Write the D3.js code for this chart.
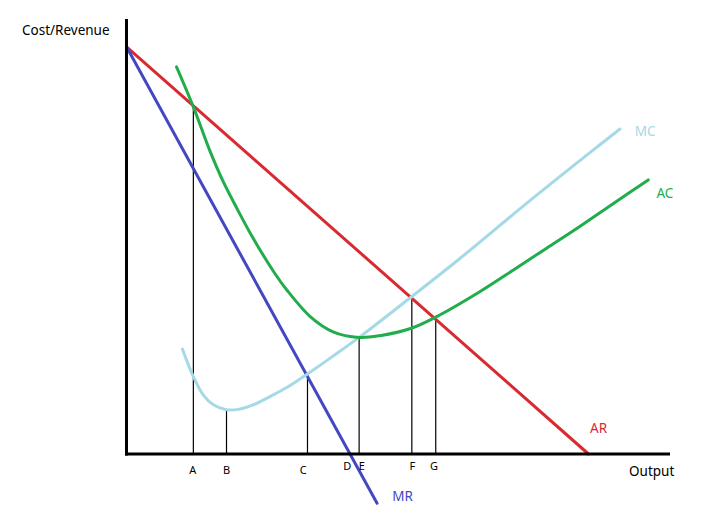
<!DOCTYPE html>
<html>
<head>
<meta charset="utf-8">
<script src="https://cdn.jsdelivr.net/npm/d3@7/dist/d3.min.js"></script>
<style>
html,body{margin:0;padding:0;background:#fff;}
svg{display:block;}
text{font-family:"Noto Sans","Open Sans",sans-serif;}
</style>
</head>
<body>
<svg id="chart" width="721" height="516"></svg>
<script>
// ---- data (output q, cost/revenue p) ----
const arCurve = [[0, 93.6], [85, 0]];
const mrCurve = [[0, 93.6], [46.1, -11.3]];
const mcCurve = [[10.3, 24.1], [12.3, 17.8], [14.1, 13.6], [16.0, 11.3], [18.3, 10.2], [20.3, 10.2], [23.3, 11.3],
                 [26.4, 13.2], [29.8, 15.5], [33.3, 18.4], [38.0, 22.5], [42.8, 26.8], [52.5, 36.2], [61.4, 45.0], [73.5, 57.5], [85.9, 69.9], [90.8, 74.7]];
const acCurve = [[9.2, 89.0], [12.3, 79.8], [15.4, 69.5], [17.8, 62.6], [20.3, 56.5], [23.3, 49.6], [27.3, 41.5], [29.5, 37.7],
                 [33.8, 31.6], [38.0, 28.1], [42.8, 26.8], [46.6, 27.2], [52.4, 28.9], [56.8, 31.4], [65.0, 37.3], [71.2, 42.3],
                 [77.3, 47.3], [83.4, 52.3], [89.6, 57.6], [96.0, 63.0]];
const dropX = [12.3, 18.4, 33.3, 42.8, 52.5, 56.9];
const dropTop = [80.0, 10.2, 18.4, 26.8, 36.2, 31.4];
const tickLabels = ["A", "B", "C", "D", "E", "F", "G"];
const tickLabelX = [12.2, 18.4, 32.5, 40.6, 43.3, 52.6, 56.6];
const tickLabelLevel = [1, 1, 1, 0, 0, 0, 0];
const curveNames = ["AR", "MR", "MC", "AC"];
const curveColors = ["#da2a31", "#4348c2", "#a5d9e6", "#22ad4c"];
const curveLabelPos = [[85.3, 4.8], [48.9, -10.8], [93.5, 73.1], [97.5, 58.9]];
const yTitle = "Cost/Revenue";
const xTitle = "Output";

// ---- layout ----
const svg = d3.select("#chart");
const x = d3.scaleLinear().domain([0, 100]).range([126.5, 670]);
const y = d3.scaleLinear().domain([0, 100]).range([454, 19]);

// drop lines
svg.append("g").selectAll("line").data(dropX).join("line")
  .attr("x1", d => x(d)).attr("x2", d => x(d))
  .attr("y1", y(0)).attr("y2", (d, i) => y(dropTop[i]))
  .attr("stroke", "#000").attr("stroke-width", 1.2);

// curves
const line = d3.line().x(d => x(d[0])).y(d => y(d[1]));
const smooth = d3.line().x(d => x(d[0])).y(d => y(d[1])).curve(d3.curveCatmullRom.alpha(0.5));
const curves = [arCurve, mrCurve, mcCurve, acCurve];
svg.append("g").selectAll("path").data(curves).join("path")
  .attr("d", (d, i) => (i < 2 ? line(d) : smooth(d)))
  .attr("fill", "none")
  .attr("stroke", (d, i) => curveColors[i])
  .attr("stroke-width", 3)
  .attr("stroke-linecap", "round");

// axes
const axes = svg.append("g");
axes.append("line").attr("x1", x(0)).attr("x2", x(0)).attr("y1", y(100)).attr("y2", y(0) + 1.5)
  .attr("stroke", "#000").attr("stroke-width", 3);
axes.append("line").attr("x1", x(0) - 1.5).attr("x2", x(100)).attr("y1", y(0)).attr("y2", y(0))
  .attr("stroke", "#000").attr("stroke-width", 3);

// tick labels
svg.append("g").selectAll("text").data(tickLabels).join("text")
  .attr("x", (d, i) => x(tickLabelX[i]))
  .attr("y", (d, i) => tickLabelLevel[i] ? 474 : 470)
  .attr("text-anchor", "middle")
  .attr("font-size", 11)
  .attr("fill", "#000")
  .text(d => d);

// curve labels
svg.append("g").selectAll("text").data(curveNames).join("text")
  .attr("x", (d, i) => x(curveLabelPos[i][0]))
  .attr("y", (d, i) => y(curveLabelPos[i][1]))
  .attr("font-size", 13.5)
  .attr("fill", (d, i) => curveColors[i])
  .text(d => d);

// axis titles
svg.append("text").attr("x", 22).attr("y", 35).attr("font-size", 13.5).attr("fill", "#000").text(yTitle);
svg.append("text").attr("x", 629).attr("y", 476).attr("font-size", 13.5).attr("fill", "#000").text(xTitle);
</script>
</body>
</html>
